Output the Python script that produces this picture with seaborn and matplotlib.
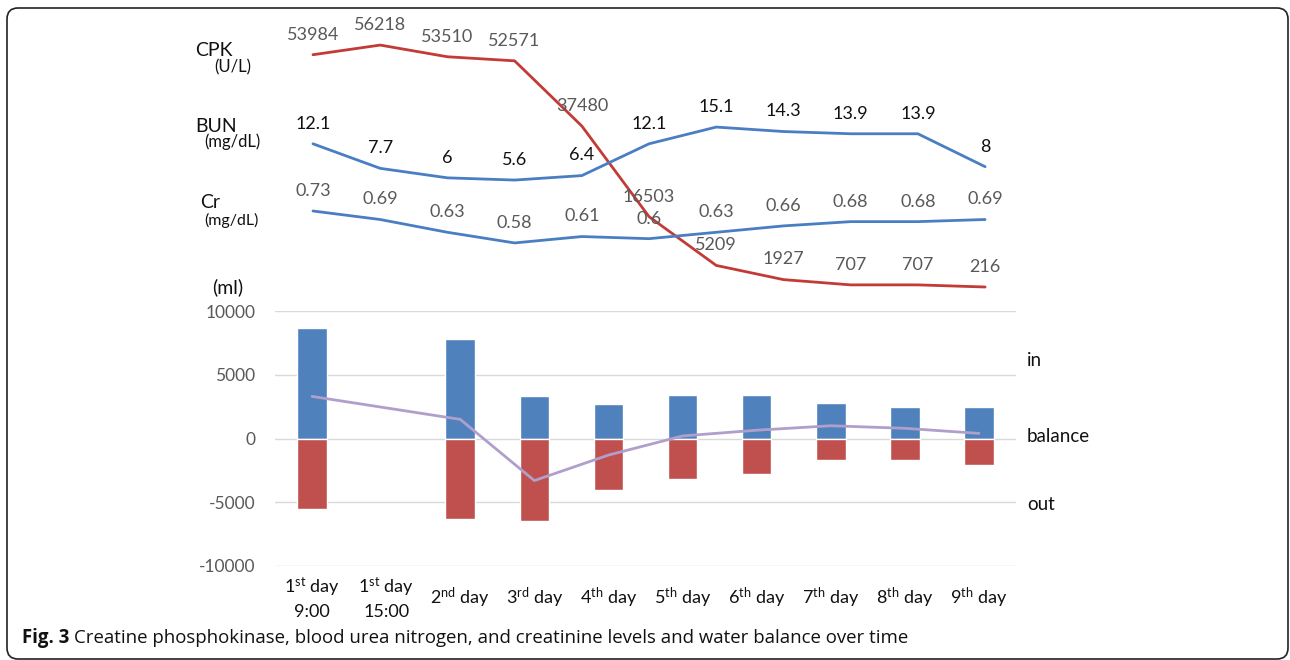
import numpy as np
import pandas as pd
import matplotlib
matplotlib.use("Agg")
import matplotlib.pyplot as plt
from matplotlib.patches import FancyBboxPatch
from matplotlib.transforms import IdentityTransform
import seaborn as sns

# ---- data -------------------------------------------------------------
categories = [
    "1$^{st}$ day\n9:00", "1$^{st}$ day\n15:00", "2$^{nd}$ day", "3$^{rd}$ day",
    "4$^{th}$ day", "5$^{th}$ day", "6$^{th}$ day", "7$^{th}$ day",
    "8$^{th}$ day", "9$^{th}$ day",
]
water_in = [8700, np.nan, 7800, 3300, 2700, 3400, 3400, 2800, 2500, 2500]
water_out = [-5500, np.nan, -6350, -6500, -4000, -3200, -2750, -1650, -1650, -2100]
water_balance = [3300, np.nan, 1500, -3300, -1300, 200, 650, 1000, 800, 400]

cpk = [53984, 56218, 53510, 52571, 37480, 16503, 5209, 1927, 707, 707, 216]
bun = [12.1, 7.7, 6, 5.6, 6.4, 12.1, 15.1, 14.3, 13.9, 13.9, 8]
cr = [0.73, 0.69, 0.63, 0.58, 0.61, 0.6, 0.63, 0.66, 0.68, 0.68, 0.69]

y_ticks = [-10000, -5000, 0, 5000, 10000]

# ---- style ------------------------------------------------------------
sns.set_theme(style="white")
plt.rcParams["font.family"] = ["Lato", "DejaVu Sans"]
plt.rcParams["mathtext.default"] = "regular"

BLUE_BAR = "#4F81BD"
RED_BAR = "#C0504D"
LAVENDER = "#B09FCB"
RED_LINE = "#C23B37"
BLUE_LINE = "#4A7EC2"
GREY_TXT = "#595959"

W, H = 1290, 660
fig = plt.figure(figsize=(W / 100, H / 100), dpi=100)


def px_rect(x0, y0, x1, y1):
    """Axes rectangle from pixel edges (origin top-left)."""
    return [x0 / W, 1 - y1 / H, (x1 - x0) / W, (y1 - y0) / H]


# ---- lab values (top panel, three independent scales) -----------------
top_rect = px_rect(275, 30, 1016, 300)
t = np.arange(len(cpk))
series = [
    (cpk, (-2793, 59707), RED_LINE, GREY_TXT, "{:g}"),
    (bun, (-15.9, 32.5), BLUE_LINE, "#111111", "{:g}"),
    (cr, (0.312, 1.58), BLUE_LINE, GREY_TXT, "{:g}"),
]
for i, (vals, ylim, lc, tc, fmt) in enumerate(series):
    ax = fig.add_axes(top_rect, label=f"lab{i}")
    ax.patch.set_alpha(0)
    sns.lineplot(x=t, y=vals, ax=ax, color=lc, linewidth=2.0)
    ax.set_xlim(-0.565, 10.46)
    ax.set_ylim(*ylim)
    ax.axis("off")
    for xi, v in zip(t, vals):
        ax.annotate(fmt.format(v), (xi, v), xytext=(0, 14.5), textcoords="offset points",
                    ha="center", va="center", fontsize=13, color=tc)

# ---- water balance (bottom panel) -------------------------------------
ax = fig.add_axes(px_rect(275, 311, 1016, 566), label="water")
ax.patch.set_alpha(0)
df = pd.DataFrame({"day": categories, "in": water_in, "out": water_out,
                   "balance": water_balance})
sns.barplot(data=df.dropna(), x="day", y="in", order=categories, color=BLUE_BAR,
            saturation=1, width=0.4, errorbar=None, ax=ax, zorder=2)
sns.barplot(data=df.dropna(), x="day", y="out", order=categories, color=RED_BAR,
            saturation=1, width=0.4, errorbar=None, ax=ax, zorder=2)
pos = np.arange(len(categories))
mask = ~np.isnan(np.asarray(water_balance, dtype=float))
sns.lineplot(x=pos[mask], y=np.asarray(water_balance)[mask], ax=ax, color=LAVENDER,
             linewidth=2.0, zorder=3)

ax.set_xlim(-0.5, 9.5)
ax.set_ylim(-10000, 10000)
ax.set_yticks(y_ticks)
ax.set_yticklabels([str(v) for v in y_ticks], color=GREY_TXT, fontsize=12.5)
ax.set_xticks(pos)
ax.set_xticklabels(categories, va="center", fontsize=13, color="#111111",
                   linespacing=1.45)
ax.tick_params(axis="x", length=0, pad=23)
ax.tick_params(axis="y", length=0, pad=14)
ax.set_xlabel("")
ax.set_ylabel("")
ax.grid(axis="y", color="#D9D9D9", linewidth=1.0, zorder=0)
ax.grid(axis="x", visible=False)
ax.set_axisbelow(True)
for s in ax.spines.values():
    s.set_visible(False)

# ---- side labels ------------------------------------------------------
def ftext(x, y, s, **kw):
    fig.text(x / W, 1 - y / H, s, va="center", ha="left", **kw)


ftext(195, 50, "CPK", fontsize=14, color="#111111")
ftext(214, 67, "(U/L)", fontsize=12, color="#111111")
ftext(195, 126, "BUN", fontsize=14, color="#111111")
ftext(204, 142, "(mg/dL)", fontsize=12, color="#111111")
ftext(200, 202, "Cr", fontsize=14, color="#111111")
ftext(204, 220, "(mg/dL)", fontsize=11.5, color="#111111")
ftext(212, 287, "(ml)", fontsize=14, color="#111111")
ftext(1027, 360, "in", fontsize=13.5, color="#111111")
ftext(1027, 437, "balance", fontsize=13.5, color="#111111")
ftext(1027, 505, "out", fontsize=13.5, color="#111111")

# ---- caption ----------------------------------------------------------
cap_font = ["Open Sans", "DejaVu Sans"]
bold = fig.text(22 / W, 1 - 638 / H, "Fig. 3", fontsize=13.4, fontweight="bold",
                family=cap_font, va="center", ha="left", color="#111111")
renderer = fig.canvas.get_renderer()
bb = bold.get_window_extent(renderer)
fig.text((bb.x1 + 5) / W, 1 - 638 / H,
         "Creatine phosphokinase, blood urea nitrogen, and creatinine levels and water balance over time",
         fontsize=13.4, family=cap_font, va="center", ha="left", color="#111111")

# ---- frame ------------------------------------------------------------
frame = FancyBboxPatch((7, 1), 1281, 651, boxstyle="round,pad=0,rounding_size=11",
                       transform=IdentityTransform(), fill=False,
                       edgecolor="#222222", linewidth=1.2)
fig.add_artist(frame)

fig.savefig("out.png", dpi=100)
